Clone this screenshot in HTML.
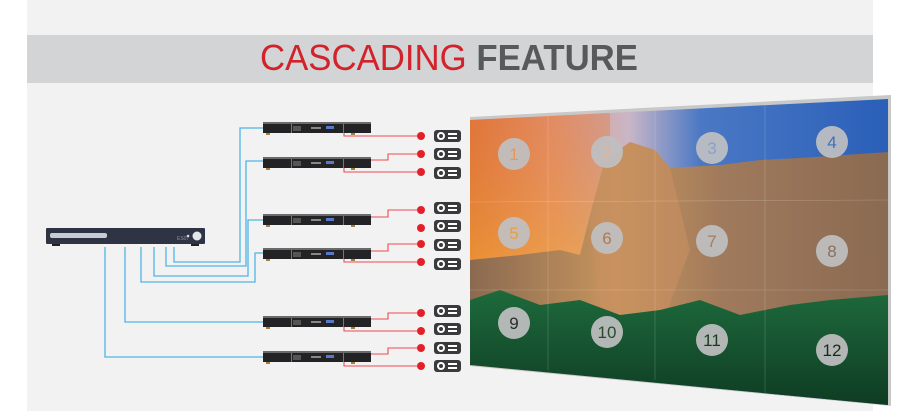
<!DOCTYPE html>
<html><head><meta charset="utf-8"><style>
html,body{margin:0;padding:0;background:#fff;}
svg{display:block}
</style></head><body>
<svg width="900" height="411" viewBox="0 0 900 411" xmlns="http://www.w3.org/2000/svg">
<defs>
<linearGradient id="sky" x1="0" y1="0" x2="1" y2="0">
<stop offset="0" stop-color="#e2783a"/><stop offset="0.2" stop-color="#e69a78"/><stop offset="0.38" stop-color="#c8b6c8"/><stop offset="0.55" stop-color="#4a78c4"/><stop offset="1" stop-color="#2a5fb8"/>
</linearGradient>
<linearGradient id="skyv" x1="0" y1="0" x2="0" y2="1">
<stop offset="0" stop-color="#d86a3a" stop-opacity="0.3"/><stop offset="1" stop-color="#f0a030" stop-opacity="0.6"/>
</linearGradient>
<linearGradient id="rock" x1="0" y1="0" x2="1" y2="0">
<stop offset="0" stop-color="#8a6a50"/><stop offset="0.35" stop-color="#c8955e"/><stop offset="0.6" stop-color="#a07a5c"/><stop offset="1" stop-color="#8a6a52"/>
</linearGradient>
<linearGradient id="tree" x1="0" y1="0" x2="0" y2="1">
<stop offset="0" stop-color="#1e6a3c"/><stop offset="1" stop-color="#0e3a22"/>
</linearGradient>
<clipPath id="scr"><polygon points="470,120 888,99 888,405 470,365"/></clipPath>
<g id="proj"><rect x="0" y="-6" width="27" height="12" rx="3" fill="#3a3a3c"/><circle cx="7" cy="0" r="4" fill="#fff"/><circle cx="7" cy="0" r="2" fill="#3a3a3c"/><rect x="14" y="-3" width="9" height="2" fill="#fff"/><rect x="14" y="1" width="9" height="2" fill="#fff"/></g>
<g id="rx"><rect x="0" y="0" width="108" height="11" fill="#232325"/><rect x="0" y="0" width="108" height="2" fill="#6a6a6a"/><rect x="28" y="2" width="1" height="9" fill="#777"/><rect x="80" y="2" width="1" height="9" fill="#777"/><rect x="30" y="4" width="8" height="5" fill="#555"/><rect x="63" y="4" width="8" height="3" fill="#5a78c8"/><rect x="48" y="5" width="10" height="2" fill="#888"/><rect x="3" y="11" width="4" height="2" fill="#a08040"/><rect x="88" y="11" width="4" height="2" fill="#a08040"/></g>
</defs>
<rect x="27" y="0" width="846" height="411" fill="#f2f2f2"/>
<rect x="27" y="35" width="846" height="48" fill="#d3d4d6"/>
<text x="260" y="70" font-family="Liberation Sans, sans-serif" font-size="36" textLength="378" lengthAdjust="spacingAndGlyphs"><tspan fill="#d2232a">CASCADING </tspan><tspan fill="#58595b" font-weight="bold">FEATURE</tspan></text>

<!-- screen -->
<polygon points="470,117 891,95 891,406 470,366" fill="#c8c8c8"/>
<g clip-path="url(#scr)">
<rect x="470" y="95" width="420" height="320" fill="url(#sky)"/>
<rect x="470" y="95" width="140" height="170" fill="url(#skyv)"/>
<polygon points="470,260 520,255 560,250 580,255 590,215 605,160 630,142 655,150 670,168 720,165 760,160 800,158 888,152 888,340 470,340" fill="url(#rock)"/>
<polygon points="590,215 605,160 630,142 655,150 670,168 690,250 660,330 600,330" fill="#c89060" opacity="0.6"/>
<polygon points="470,300 500,290 540,305 580,300 620,315 660,310 700,300 740,315 790,305 830,300 888,295 888,410 470,370" fill="url(#tree)"/>
<path d="M470,202 L888,200 M470,290 L888,290 M548,115 V370 M655,105 V380 M765,100 V395" stroke="#ffffff" stroke-opacity="0.25" stroke-width="0.6"/>
</g>
<g fill="#c0c0c2" opacity="0.92">
<circle cx="514" cy="154" r="16"/><circle cx="607" cy="152" r="16"/><circle cx="712" cy="148" r="16"/><circle cx="832" cy="142" r="16"/>
<circle cx="514" cy="233" r="16"/><circle cx="607" cy="238" r="16"/><circle cx="712" cy="241" r="16"/><circle cx="832" cy="251" r="16"/>
<circle cx="514" cy="323" r="16"/><circle cx="607" cy="332" r="16"/><circle cx="712" cy="340" r="16"/><circle cx="832" cy="350" r="16"/>
</g>
<g font-family="Liberation Sans, sans-serif" font-size="17" text-anchor="middle">
<text x="514" y="160" fill="#e8965a">1</text><text x="607" y="158" fill="#e8b090">2</text><text x="712" y="154" fill="#8aa0c8">3</text><text x="832" y="148" fill="#4070b8">4</text>
<text x="514" y="239" fill="#e8a040">5</text><text x="607" y="244" fill="#b07a50">6</text><text x="712" y="247" fill="#a08060">7</text><text x="832" y="257" fill="#8a7060">8</text>
<text x="514" y="329" fill="#2a2a2a">9</text><text x="607" y="338" fill="#2a4a30">10</text><text x="712" y="346" fill="#1a3a22">11</text><text x="832" y="356" fill="#1a2a1a">12</text>
</g>

<!-- blue lines -->
<g fill="none" stroke="#4fb4e6" stroke-width="1.3">
<path d="M174,247 V262 H240 V128 H263"/>
<path d="M166,247 V266 H246 V161 H263"/>
<path d="M154,247 V276 H248 V220 H263"/>
<path d="M141,247 V282 H255 V253 H263"/>
<path d="M125,247 V322 H263"/>
<path d="M105,247 V357 H263"/>
</g>
<!-- source -->
<rect x="46" y="228" width="159" height="16" rx="1" fill="#2f3445"/>
<rect x="50" y="233" width="57" height="5" rx="2" fill="#c8ccd4"/>
<text x="177" y="240" font-family="Liberation Sans, sans-serif" font-size="5" fill="#8890a0">ES07</text>
<circle cx="188" cy="236" r="1.3" fill="#ddd"/><circle cx="197" cy="236" r="4.5" fill="#e4e6ea"/>
<rect x="52" y="244" width="8" height="2" fill="#222"/><rect x="191" y="244" width="8" height="2" fill="#222"/>

<!-- receivers -->
<use href="#rx" x="263" y="122"/><use href="#rx" x="263" y="157"/><use href="#rx" x="263" y="214"/><use href="#rx" x="263" y="248"/><use href="#rx" x="263" y="316"/><use href="#rx" x="263" y="351"/>

<!-- red lines -->
<g fill="none" stroke="#ee4a52" stroke-width="1.1">
<path d="M344,133 V136 H417"/>
<path d="M371,160 H388 V154 H417"/><path d="M344,168 V172 H417"/>
<path d="M371,217 H388 V210 H417"/>
<path d="M371,251 H388 V244 H417"/><path d="M344,259 V262 H417"/>
<path d="M371,319 H388 V313 H417"/><path d="M344,327 V331 H417"/>
<path d="M371,354 H388 V348 H417"/><path d="M344,362 V366 H417"/>
</g>
<g fill="#e3202a">
<circle cx="421" cy="136" r="4"/><circle cx="421" cy="154" r="4"/><circle cx="421" cy="172" r="4"/><circle cx="421" cy="210" r="4"/><circle cx="421" cy="228" r="4"/><circle cx="421" cy="244" r="4"/><circle cx="421" cy="262" r="4"/><circle cx="421" cy="313" r="4"/><circle cx="421" cy="331" r="4"/><circle cx="421" cy="348" r="4"/><circle cx="421" cy="366" r="4"/>
</g>
<use href="#proj" x="434" y="136"/><use href="#proj" x="434" y="154"/><use href="#proj" x="434" y="173"/><use href="#proj" x="434" y="208"/><use href="#proj" x="434" y="226"/><use href="#proj" x="434" y="245"/><use href="#proj" x="434" y="264"/><use href="#proj" x="434" y="311"/><use href="#proj" x="434" y="329"/><use href="#proj" x="434" y="348"/><use href="#proj" x="434" y="366"/>
</svg>
</body></html>
